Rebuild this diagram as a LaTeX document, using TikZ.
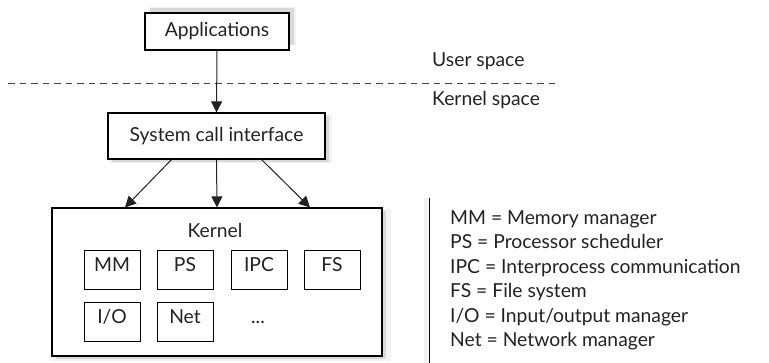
\documentclass[tikz,border=0pt]{standalone}
\usepackage{fontspec}
\setmainfont{Lato}
\usetikzlibrary{arrows.meta,shadows,calc}
\definecolor{ink}{HTML}{222222}
\tikzset{
  every node/.style={font=\fontsize{19.3}{23}\selectfont, text=ink},
  shadowat/.style args={#1,#2}{
    drop shadow={shadow xshift=#1,shadow yshift=#2,opacity=.10,fill=black},
    drop shadow={shadow xshift=#1,shadow yshift=#2,shadow scale=1.03,opacity=.05,fill=black}},
  bigbox/.style={draw=black, line width=1.1pt, fill=white, inner sep=0pt},
  kbox/.style={draw=black, line width=0.9pt, fill=white, inner sep=0pt,
    minimum width=56pt, minimum height=39pt, text height=0.72em, text depth=0.22em},
  kdots/.style={inner sep=0pt, minimum width=56pt, minimum height=39pt, text height=0.72em, text depth=0.22em},
  arr/.style={draw=ink, line width=1pt, -{Triangle[length=11pt,width=11pt]}},
  sep/.style={draw=ink!85, line width=0.9pt, dash pattern=on 6.5pt off 5pt},
  label/.style={anchor=base west, inner sep=0pt}
}
\begin{document}
\begin{tikzpicture}[x=1pt,y=-1pt]
\useasboundingbox (0,0) rectangle (769,363);

% top part
\node[bigbox, shadowat={5pt,5pt}, minimum width=144pt, minimum height=37pt] (app) at (217,31.5) {Applications};
\node[bigbox, shadowat={4pt,-3pt}, minimum width=217pt, minimum height=46pt] (sc) at (216.5,136) {System call interface};

\coordinate (dl) at (8,83);
\coordinate (dr) at (557,83);
\draw[sep] (dl) -- (dr);

\node[label] (us) at (432,67) {User space};
\node[label] (ks) at (432,106) {Kernel space};

% kernel box
\node[bigbox, shadowat={4pt,-3pt}, minimum width=330pt, minimum height=148pt] (kern) at (217,282) {};
\node[inner sep=0pt] (kl) at (215,230) {Kernel};

\node[kbox] (mm)  at (112,269.5) {MM};
\node[kbox] (ps)  at (185,269.5) {PS};
\node[kbox] (ipc) at (259,269.5) {IPC};
\node[kbox] (fs)  at (332,269.5) {FS};
\node[kbox] (io)  at (112,321.5) {I/O};
\node[kbox] (net) at (185,321.5) {Net};
\node[kdots] (dots) at (258,321.5) {...};

% arrows
\draw[arr] (app.south) -- (sc.north);
\draw[arr] ($(sc.south)+(-45,0)$) -- ($(kern.north)+(-92,0)$);
\draw[arr] (sc.south) -- (kern.north);
\draw[arr] ($(sc.south)+(45,0)$) -- ($(kern.north)+(93,0)$);

% legend
\coordinate (lt) at (429,198);
\coordinate (lb) at (429,363);
\draw[black!6, line width=4pt] ($(lt)+(-3,0)$) -- ($(lb)+(-3,0)$);
\draw[black, line width=1pt] (lt) -- (lb);
\node[label] (l1) at (450,224.5) {MM = Memory manager};
\node[label] (l2) at (450,249) {PS = Processor scheduler};
\node[label] (l3) at (450,273.5) {IPC = Interprocess communication};
\node[label] (l4) at (450,298) {FS = File system};
\node[label] (l5) at (450,322.5) {I/O = Input/output manager};
\node[label] (l6) at (450,347) {Net = Network manager};
\end{tikzpicture}
\end{document}
